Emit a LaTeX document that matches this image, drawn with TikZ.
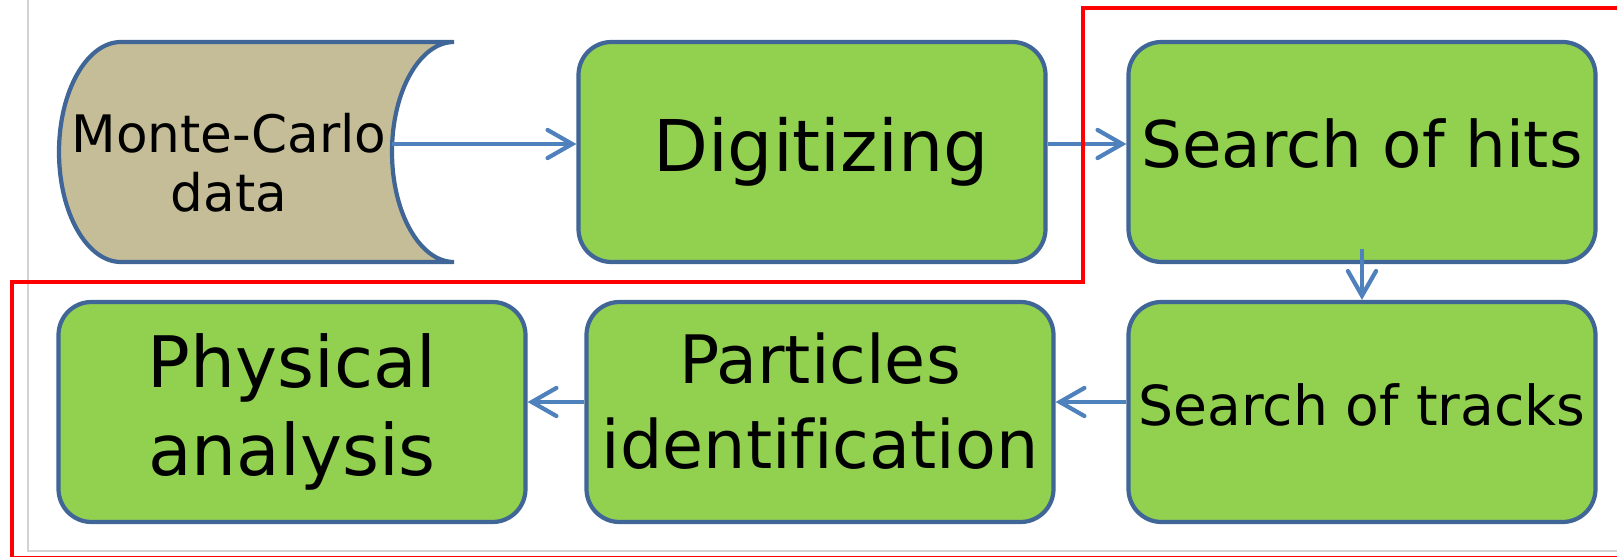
\documentclass[tikz,border=0pt]{standalone}
\usepackage{fontspec}
\setmainfont[Ligatures=NoCommon]{DejaVu Sans}
\usetikzlibrary{arrows.meta, positioning}
\definecolor{stagefill}{HTML}{92D050}
\definecolor{stageline}{HTML}{3F6696}
\definecolor{datafill}{HTML}{C4BD97}
\definecolor{flowline}{HTML}{4F81BD}
\definecolor{frameline}{HTML}{D3D3D3}
\definecolor{markline}{HTML}{FF0000}
\tikzset{
  stage/.style  = {rectangle, rounded corners=3.3mm, draw=stageline, fill=stagefill,
                   line width=1.2pt, align=center, minimum width=46.7mm, minimum height=22mm,
                   inner sep=0pt},
  datablk/.style= {draw=stageline, fill=datafill, line width=1.2pt},
  flow/.style   = {-{Straight Barb[length=7pt, width=8pt, line cap=round]}, line width=1.2pt, draw=flowline},
  hiline/.style = {line width=1.35pt, draw=markline},
}
\begin{document}
\begin{tikzpicture}[x=0.1mm, y=-0.1mm]
  \useasboundingbox (0,0) rectangle (1617,557);
  \draw[frameline, line width=0.25mm] (28,-10) -- (28,551) -- (1640,551);
  \draw[datablk] (121,42) -- (454,42) .. controls (420,42) and (392,91) .. (392,152)
    .. controls (392,213) and (420,262) .. (454,262) -- (121,262)
    .. controls (87,262) and (59,213) .. (59,152) .. controls (59,91) and (87,42) .. (121,42) -- cycle;
  \node[align=center, inner sep=1pt, font=\fontsize{14.7}{16.8}\selectfont] (mc) at (229,163) {Monte-Carlo\\data};
  \node[stage, font=\fontsize{20.3}{25}\selectfont] (dig) at (812,152) {\hspace*{5pt}Digitizing};
  \node[stage, font=\fontsize{18.3}{22}\selectfont, text depth=5pt] (hits) at (1362,152) {Search of hits};
  \node[stage, font=\fontsize{15.7}{19}\selectfont, text depth=4pt] (tracks) at (1362,412) {Search of tracks};
  \node[stage, font=\fontsize{19}{24}\selectfont, text depth=6.5pt] (pid) at (820,412) {Particles\\identification};
  \node[stage, font=\fontsize{20.2}{25}\selectfont] (phys) at (292,412) {Physical\\analysis};
  \coordinate (mcout) at (392,144);
  \draw[flow] (mcout) -- (mcout -| dig.west);
  \draw[flow] ([yshift=0.8mm]dig.east) -- ([yshift=0.8mm]hits.west);
  \draw[flow] ([yshift=1.5mm]hits.south) -- (tracks.north);
  \foreach \a/\b in {tracks/pid, pid/phys}{\draw[flow] ([yshift=1mm]\a.west) -- ([yshift=1mm]\b.east);}
  \draw[hiline] (12,558) -- (12,282) -- (1083,282) -- (1083,8) -- (1650,8) -- (1650,558) -- cycle;
\end{tikzpicture}
\end{document}
